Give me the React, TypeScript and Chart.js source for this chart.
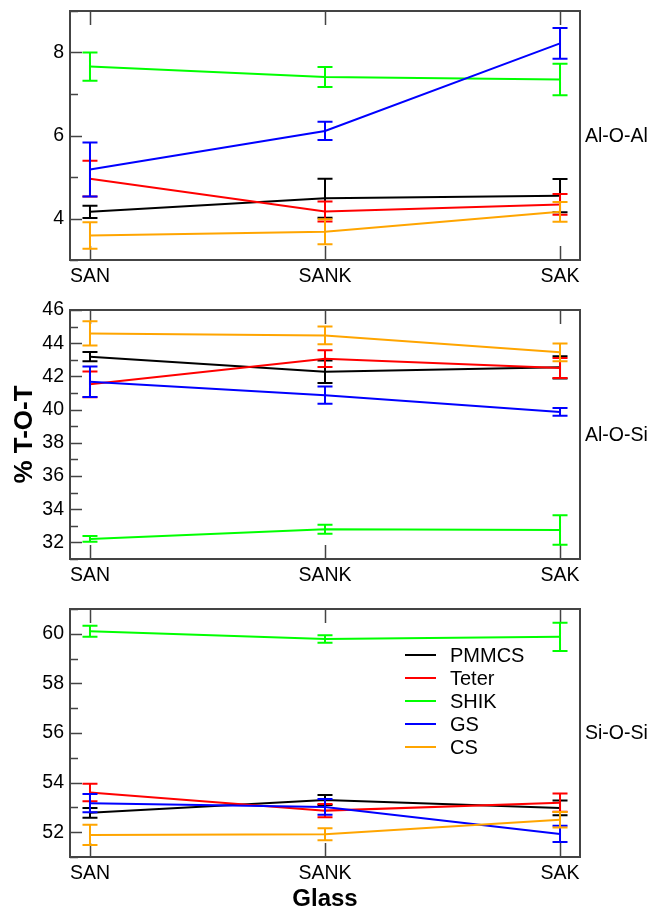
import React, { useEffect, useRef } from "react";
import { Chart, registerables } from "chart.js";

Chart.register(...registerables);

// ---------- data ----------
const categories = ["SAN", "SANK", "SAK"];
const seriesNames = ["PMMCS", "Teter", "SHIK", "GS", "CS"];
const seriesColors = ["#000000", "#ff0000", "#00ff00", "#0000ff", "#ffa500"];
const panelLabels = ["Al-O-Al", "Al-O-Si", "Si-O-Si"];
const yAxisTitle = "% T-O-T";
const xAxisTitle = "Glass";

// Al-O-Al
const alOAlPMMCS = [4.16, 4.49, 4.55];
const alOAlTeter = [4.96, 4.17, 4.34];
const alOAlSHIK = [7.66, 7.41, 7.35];
const alOAlGS = [5.18, 6.11, 8.22];
const alOAlCS = [3.59, 3.68, 4.16];
const alOAlPMMCSErr = [0.15, 0.47, 0.4];
const alOAlTeterErr = [0.43, 0.24, 0.25];
const alOAlSHIKErr = [0.34, 0.24, 0.38];
const alOAlGSErr = [0.65, 0.22, 0.37];
const alOAlCSErr = [0.32, 0.3, 0.24];

// Al-O-Si
const alOSiPMMCS = [43.19, 42.28, 42.55];
const alOSiTeter = [41.52, 43.07, 42.51];
const alOSiSHIK = [32.21, 32.79, 32.75];
const alOSiGS = [41.68, 40.87, 39.86];
const alOSiCS = [44.59, 44.47, 43.45];
const alOSiPMMCSErr = [0.28, 0.68, 0.67];
const alOSiTeterErr = [0.77, 0.5, 0.6];
const alOSiSHIKErr = [0.17, 0.27, 0.89];
const alOSiGSErr = [0.92, 0.52, 0.23];
const alOSiCSErr = [0.73, 0.53, 0.53];

// Si-O-Si
const siOSiPMMCS = [52.78, 53.3, 52.98];
const siOSiTeter = [53.6, 52.87, 53.19];
const siOSiSHIK = [60.1, 59.79, 59.88];
const siOSiGS = [53.17, 53.02, 51.93];
const siOSiCS = [51.89, 51.92, 52.5];
const siOSiPMMCSErr = [0.2, 0.2, 0.3];
const siOSiTeterErr = [0.35, 0.27, 0.37];
const siOSiSHIKErr = [0.22, 0.15, 0.57];
const siOSiGSErr = [0.37, 0.32, 0.33];
const siOSiCSErr = [0.41, 0.24, 0.31];

// y ranges (min, max)
const alOAlRange = [3, 9];
const alOSiRange = [31, 46];
const siOSiRange = [51, 61];

// ---------- layout / style ----------
const FONT = "'Liberation Sans', Arial, Helvetica, sans-serif";
const W = 651;
const PLOT_LEFT = 70;
const PLOT_RIGHT = 580;
const TOP_PAD = 11;
const CAP = 7.5;
const FRAME = "#444444";

type PanelCfg = {
  label: string;
  range: number[];
  values: number[][];
  errors: number[][];
  canvasTop: number;
  canvasHeight: number;
  boxHeight: number;
  showLegend: boolean;
  showXTitle: boolean;
  showYTitle: boolean;
};

const panels: PanelCfg[] = [
  {
    label: panelLabels[0],
    range: alOAlRange,
    values: [alOAlPMMCS, alOAlTeter, alOAlSHIK, alOAlGS, alOAlCS],
    errors: [alOAlPMMCSErr, alOAlTeterErr, alOAlSHIKErr, alOAlGSErr, alOAlCSErr],
    canvasTop: 0,
    canvasHeight: 298,
    boxHeight: 249,
    showLegend: false,
    showXTitle: false,
    showYTitle: false,
  },
  {
    label: panelLabels[1],
    range: alOSiRange,
    values: [alOSiPMMCS, alOSiTeter, alOSiSHIK, alOSiGS, alOSiCS],
    errors: [alOSiPMMCSErr, alOSiTeterErr, alOSiSHIKErr, alOSiGSErr, alOSiCSErr],
    canvasTop: 299,
    canvasHeight: 298,
    boxHeight: 249,
    showLegend: false,
    showXTitle: false,
    showYTitle: true,
  },
  {
    label: panelLabels[2],
    range: siOSiRange,
    values: [siOSiPMMCS, siOSiTeter, siOSiSHIK, siOSiGS, siOSiCS],
    errors: [siOSiPMMCSErr, siOSiTeterErr, siOSiSHIKErr, siOSiGSErr, siOSiCSErr],
    canvasTop: 598,
    canvasHeight: 311,
    boxHeight: 248,
    showLegend: true,
    showXTitle: true,
    showYTitle: false,
  },
];

const zeroPadding = (s: any) => {
  s.paddingTop = 0;
  s.paddingBottom = 0;
  s.paddingLeft = 0;
  s.paddingRight = 0;
};

function PanelChart({ panel }: { panel: PanelCfg }) {
  const ref = useRef<HTMLCanvasElement>(null);

  useEffect(() => {
    const canvas = ref.current;
    if (!canvas) return;
    const [yMin, yMax] = panel.range;
    const bottomSpace = panel.canvasHeight - TOP_PAD - panel.boxHeight;

    const decor = {
      id: "decor",
      beforeDatasetsDraw(chart: any) {
        const { ctx, chartArea } = chart;
        const xs = chart.scales.x;
        const ys = chart.scales.y;
        ctx.save();
        ctx.strokeStyle = FRAME;
        ctx.lineWidth = 1.5;
        // inward ticks
        ctx.beginPath();
        for (let v = yMin; v <= yMax; v++) {
          const py = Math.round(ys.getPixelForValue(v)) + 0.5;
          const len = v % 2 === 0 ? 12 : 8;
          ctx.moveTo(chartArea.left, py);
          ctx.lineTo(chartArea.left + len, py);
        }
        categories.forEach((_, j) => {
          const px = Math.round(xs.getPixelForValue(j)) + 0.5;
          ctx.moveTo(px, chartArea.top);
          ctx.lineTo(px, chartArea.top + 14);
          ctx.moveTo(px, chartArea.bottom);
          ctx.lineTo(px, chartArea.bottom - 14);
        });
        ctx.stroke();
        // frame
        ctx.lineWidth = 2;
        ctx.strokeRect(
          chartArea.left,
          chartArea.top,
          chartArea.right - chartArea.left,
          chartArea.bottom - chartArea.top
        );
        ctx.restore();
      },
      afterDatasetDraw(chart: any, args: any) {
        const i = args.index;
        const ds = chart.data.datasets[i];
        const xs = chart.scales.x;
        const ys = chart.scales.y;
        const ctx = chart.ctx;
        const vals = panel.values[i];
        const errs = panel.errors[i];
        ctx.save();
        ctx.strokeStyle = ds.borderColor;
        ctx.lineWidth = 2;
        ctx.beginPath();
        vals.forEach((v, j) => {
          const px = xs.getPixelForValue(j);
          const top = ys.getPixelForValue(v + errs[j]);
          const bot = ys.getPixelForValue(v - errs[j]);
          ctx.moveTo(px, top);
          ctx.lineTo(px, bot);
          ctx.moveTo(px - CAP, top);
          ctx.lineTo(px + CAP, top);
          ctx.moveTo(px - CAP, bot);
          ctx.lineTo(px + CAP, bot);
        });
        ctx.stroke();
        ctx.restore();
      },
      afterDraw(chart: any) {
        const { ctx, chartArea } = chart;
        ctx.save();
        ctx.fillStyle = "#000";
        ctx.font = `19.5px ${FONT}`;
        ctx.textAlign = "left";
        ctx.textBaseline = "middle";
        ctx.fillText(panel.label, chartArea.right + 5, (chartArea.top + chartArea.bottom) / 2 + 1);
        if (panel.showLegend) {
          ctx.font = `20px ${FONT}`;
          chart.data.datasets.forEach((ds: any, i: number) => {
            const y = chartArea.top + 46 + i * 23;
            ctx.strokeStyle = ds.borderColor;
            ctx.lineWidth = 2;
            ctx.beginPath();
            ctx.moveTo(chartArea.left + 335, y);
            ctx.lineTo(chartArea.left + 366, y);
            ctx.stroke();
            ctx.fillStyle = "#000";
            ctx.fillText(ds.label, chartArea.left + 380, y + 1);
          });
        }
        ctx.restore();
      },
    };

    const chart = new Chart(canvas, {
      type: "line",
      data: {
        datasets: seriesNames.map((name, i) => ({
          label: name,
          data: panel.values[i].map((v, j) => ({ x: j, y: v })),
          borderColor: seriesColors[i],
          backgroundColor: seriesColors[i],
          borderWidth: 2,
          pointRadius: 0,
          tension: 0,
          order: seriesNames.length - i,
        })),
      },
      options: {
        animation: false,
        responsive: false,
        events: [],
        layout: { padding: { left: 0, right: W - PLOT_RIGHT, top: TOP_PAD, bottom: 0 } },
        plugins: { legend: { display: false }, tooltip: { enabled: false } },
        scales: {
          x: {
            type: "linear",
            min: -0.085,
            max: 2.085,
            grid: { display: false, drawTicks: false },
            border: { display: false },
            afterBuildTicks: (s: any) => {
              s.ticks = categories.map((_, j) => ({ value: j }));
            },
            afterFit: (s: any) => {
              s.height = bottomSpace;
              zeroPadding(s);
            },
            ticks: {
              callback: (v: any) => categories[v] ?? "",
              font: { family: FONT, size: 19.5 },
              color: "#000",
              padding: 5,
              maxRotation: 0,
              autoSkip: false,
            },
            title: {
              display: panel.showXTitle,
              text: xAxisTitle,
              color: "#000",
              font: { family: FONT, size: 24, weight: "bold", lineHeight: 0.8 },
              padding: 0,
            },
          },
          y: {
            type: "linear",
            min: yMin,
            max: yMax,
            grid: { display: false, drawTicks: false },
            border: { display: false },
            afterBuildTicks: (s: any) => {
              const t: any[] = [];
              for (let v = yMin; v <= yMax; v++) t.push({ value: v });
              s.ticks = t;
            },
            afterFit: (s: any) => {
              s.width = PLOT_LEFT;
              zeroPadding(s);
            },
            ticks: {
              callback: (v: any) => (Number(v) % 2 === 0 ? String(v) : ""),
              font: { family: FONT, size: 19.5 },
              color: "#000",
              padding: 6,
              autoSkip: false,
            },
            title: {
              display: panel.showYTitle,
              text: yAxisTitle,
              color: "#000",
              font: { family: FONT, size: 26, weight: "bold", lineHeight: 1 },
              padding: { top: 12, bottom: 0 },
            },
          },
        },
      },
      plugins: [decor],
    } as any);

    return () => chart.destroy();
  }, [panel]);

  return (
    <canvas
      ref={ref}
      width={W}
      height={panel.canvasHeight}
      style={{
        position: "absolute",
        left: 0,
        top: panel.canvasTop,
        width: W,
        height: panel.canvasHeight,
        display: "block",
      }}
    />
  );
}

export default function App() {
  return (
    <div
      style={{
        position: "absolute",
        left: 0,
        top: 0,
        width: W,
        height: 909,
        background: "#fff",
        overflow: "hidden",
      }}
    >
      {panels.map((p, i) => (
        <PanelChart key={i} panel={p} />
      ))}
    </div>
  );
}
